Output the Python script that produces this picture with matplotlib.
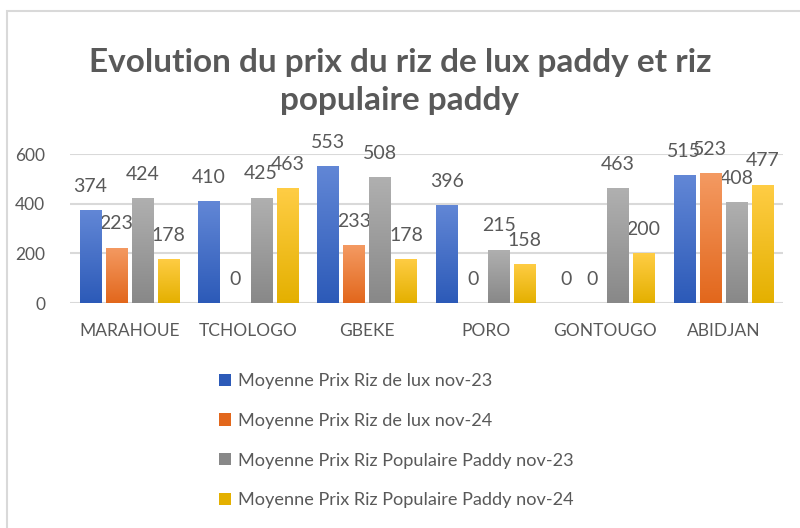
import numpy as np
import matplotlib
matplotlib.use("Agg")
import matplotlib.pyplot as plt
from matplotlib.colors import LinearSegmentedColormap
from matplotlib.patches import Rectangle

plt.rcParams['font.family'] = ['Lato', 'DejaVu Sans']

regions = ['MARAHOUE', 'TCHOLOGO', 'GBEKE', 'PORO', 'GONTOUGO', 'ABIDJAN']
lux_nov23 = [374, 410, 553, 396, 0, 515]
lux_nov24 = [223, 0, 233, 0, 0, 523]
pop_nov23 = [424, 425, 508, 215, 463, 408]
pop_nov24 = [178, 463, 178, 158, 200, 477]

series_names = ['Moyenne Prix Riz de lux nov-23',
                'Moyenne Prix Riz de lux nov-24',
                'Moyenne Prix Riz Populaire Paddy nov-23',
                'Moyenne Prix Riz Populaire Paddy nov-24']
series = [lux_nov23, lux_nov24, pop_nov23, pop_nov24]

# (top colour, bottom colour) for the Excel-like gradient fill
gradients = [('#6287d6', '#2c5ab8'),
             ('#f49a62', '#e2671c'),
             ('#b0b0b0', '#888888'),
             ('#ffcd45', '#e4b000')]
text_grey = '#595959'

fig = plt.figure(figsize=(8, 5.28), dpi=100)
ax = fig.add_axes([0.0875, 0.426, 0.891, 0.282])

x = np.arange(len(regions))
step = 0.219
width = 0.18
grad = np.linspace(0, 1, 256).reshape(-1, 1)

for i, (vals, name, (top, bot)) in enumerate(zip(series, series_names, gradients)):
    pos = x + (i - 1.5) * step
    bars = ax.bar(pos, vals, width, color=bot, label=name, zorder=3)
    cmap = LinearSegmentedColormap.from_list('g%d' % i, [bot, top])
    for b in bars:
        h = b.get_height()
        if h <= 0:
            continue
        im = ax.imshow(grad, cmap=cmap, origin='lower', aspect='auto',
                       extent=[b.get_x(), b.get_x() + b.get_width(), 0, h],
                       zorder=3.5)
        im.set_clip_path(b)
    ax.bar_label(bars, padding=11, fontsize=14, color=text_grey)

ax.set_xlim(-0.5, len(regions) - 0.5)
ax.set_ylim(0, 600)
ax.set_yticks([0, 200, 400, 600])
ax.set_xticks(x)
ax.set_xticklabels(regions)
ax.tick_params(axis='both', length=0, labelsize=12.5, colors=text_grey)
ax.tick_params(axis='x', pad=14)
ax.tick_params(axis='y', pad=18)
ax.yaxis.grid(True, color='#d9d9d9', linewidth=1.5, zorder=0)
ax.set_axisbelow(True)
for s in ax.spines.values():
    s.set_visible(False)

fig.text(0.5, 0.846, 'Evolution du prix du riz de lux paddy et riz\npopulaire paddy',
         ha='center', va='center', fontsize=24, fontweight='bold',
         color=text_grey, linespacing=1.36)

handles, labels = ax.get_legend_handles_labels()
fig.legend(handles, labels, loc='upper left', bbox_to_anchor=(0.253, 0.324),
           frameon=False, fontsize=13.1, handlelength=0.65, handleheight=0.65,
           handletextpad=0.4, labelspacing=1.3, labelcolor=text_grey)

fig.patches.append(Rectangle((0.00875, -0.01), 1.2, 0.989, transform=fig.transFigure,
                             fill=False, edgecolor='#d9d9d9', linewidth=1.5))

fig.savefig('out.png', dpi=100)
